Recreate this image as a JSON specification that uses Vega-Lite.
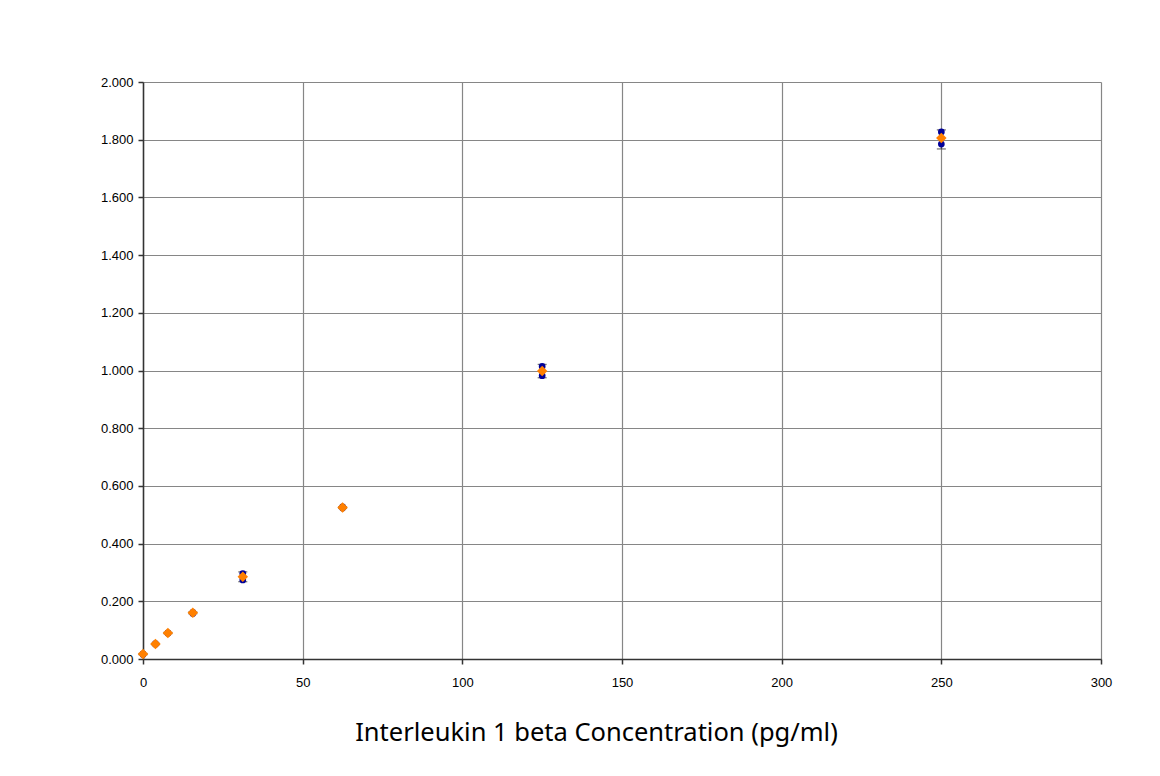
{
  "$schema": "https://vega.github.io/schema/vega-lite/v6.json",
  "autosize": "none",
  "width": 958,
  "height": 577,
  "padding": {"left": 143, "top": 82, "right": 59, "bottom": 117},
  "background": "white",
  "config": {
    "view": {"stroke": null},
    "axis": {
      "labelFont": "Liberation Sans",
      "labelFontSize": 13,
      "labelColor": "#000000",
      "labelFlush": false,
      "domainColor": "#333333",
      "domainWidth": 1.5,
      "tickColor": "#333333",
      "tickWidth": 1.5,
      "tickSize": 5,
      "gridColor": "#868686",
      "gridWidth": 1.2
    }
  },
  "data": {
    "values": [
      {"conc": 0, "rep1": 0.018, "rep2": 0.016, "mean": 0.017, "lo": 0.015, "hi": 0.019},
      {"conc": 3.9, "rep1": 0.053, "rep2": 0.051, "mean": 0.052, "lo": 0.050, "hi": 0.054},
      {"conc": 7.8, "rep1": 0.091, "rep2": 0.089, "mean": 0.090, "lo": 0.088, "hi": 0.092},
      {"conc": 15.6, "rep1": 0.162, "rep2": 0.158, "mean": 0.160, "lo": 0.157, "hi": 0.163},
      {"conc": 31.25, "rep1": 0.296, "rep2": 0.274, "mean": 0.285, "lo": 0.268, "hi": 0.302},
      {"conc": 62.5, "rep1": 0.527, "rep2": 0.523, "mean": 0.525, "lo": 0.522, "hi": 0.528},
      {"conc": 125, "rep1": 1.014, "rep2": 0.982, "mean": 0.998, "lo": 0.975, "hi": 1.021},
      {"conc": 250, "rep1": 1.827, "rep2": 1.785, "mean": 1.806, "lo": 1.768, "hi": 1.834}
    ]
  },
  "encoding": {
    "x": {
      "field": "conc",
      "type": "quantitative",
      "scale": {"domain": [0, 300], "nice": false, "zero": true},
      "axis": {
        "values": [0, 50, 100, 150, 200, 250, 300],
        "title": "Interleukin 1 beta Concentration (pg/ml)",
        "titleFont": "Noto Sans",
        "titleFontSize": 25.5,
        "titleFontWeight": "normal",
        "titleColor": "#000000",
        "titlePadding": 31,
        "titleX": 453,
        "titleAlign": "center",
        "labelPadding": 12
      }
    }
  },
  "layer": [
    {
      "mark": {"type": "rule", "color": "#404040", "strokeWidth": 1},
      "encoding": {
        "y": {
          "field": "lo",
          "type": "quantitative",
          "scale": {"domain": [0, 2], "nice": false},
          "axis": {
            "values": [0, 0.2, 0.4, 0.6, 0.8, 1.0, 1.2, 1.4, 1.6, 1.8, 2.0],
            "format": ".3f",
            "title": null,
            "labelPadding": 5
          }
        },
        "y2": {"field": "hi"}
      }
    },
    {
      "mark": {"type": "tick", "orient": "horizontal", "color": "#404040", "size": 9, "thickness": 1.3},
      "encoding": {"y": {"field": "lo", "type": "quantitative"}}
    },
    {
      "mark": {"type": "tick", "orient": "horizontal", "color": "#404040", "size": 9, "thickness": 1.3},
      "encoding": {"y": {"field": "hi", "type": "quantitative"}}
    },
    {
      "transform": [{"fold": ["rep1", "rep2"], "as": ["rep", "od"]}],
      "mark": {"type": "point", "shape": "circle", "filled": true, "color": "#000099", "size": 45, "opacity": 1},
      "encoding": {"y": {"field": "od", "type": "quantitative"}}
    },
    {
      "mark": {"type": "point", "shape": "diamond", "filled": true, "fill": "#FF8000", "strokeWidth": 0, "size": 110, "opacity": 1},
      "encoding": {"y": {"field": "mean", "type": "quantitative"}}
    }
  ]
}
